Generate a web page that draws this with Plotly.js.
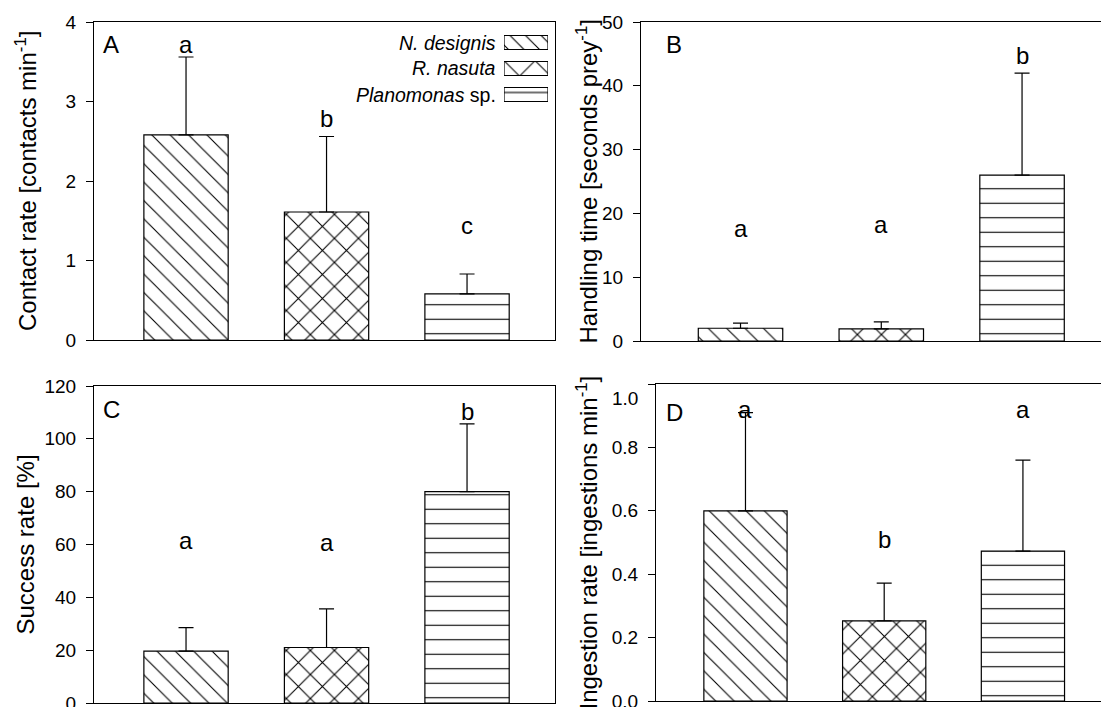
<!DOCTYPE html>
<html>
<head>
<meta charset="utf-8">
<script src="https://cdn.plot.ly/plotly-3.0.1.min.js"></script>
<style>
  html, body { margin: 0; padding: 0; overflow: hidden; background: #fff; }
  #chart { width: 1110px; height: 730px; }
</style>
</head>
<body>
<div id="chart"></div>
<script>
// Prey species (x categories, one bar each)
const species = ['N. designis', 'R. nasuta', 'Planomonas sp.'];
const speciesLabels = ['<i>N. designis</i>', '<i>R. nasuta</i>', '<i>Planomonas</i> sp.'];

// A: contact rate (contacts min-1), mean and SD
const contactRate = [2.58, 1.61, 0.58];
const contactRateSD = [0.98, 0.95, 0.25];
// B: handling time (seconds prey-1)
const handlingTime = [2.0, 1.9, 26.0];
const handlingTimeSD = [0.8, 1.1, 16.0];
// C: success rate (%)
const successRate = [19.6, 21.0, 80.0];
const successRateSD = [8.9, 14.6, 25.7];
// D: ingestion rate (ingestions min-1)
const ingestionRate = [0.60, 0.253, 0.473];
const ingestionRateSD = [0.31, 0.119, 0.287];

// significance groups
const lettersA = ['a', 'b', 'c'];
const lettersB = ['a', 'a', 'b'];
const lettersC = ['a', 'a', 'b'];
const lettersD = ['a', 'b', 'a'];

// tick labels of the ingestion-rate axis (top one is set a little lower, below the frame)
const ingestionTicks = [0, 0.2, 0.4, 0.6, 0.8, 1.0];
const ingestionTickText = ['0.0', '0.2', '0.4', '0.6', '0.8', '1.0'];

// ---- layout helpers (figure is drawn in pixel terms) ----
const W = 1110, H = 730;
const fx = px => px / W;
const fy = py => 1 - py / H;
const FONT = 'Liberation Sans, Arial, Helvetica, sans-serif';

const hatch = {
  shape: ['\\', 'x', '-'],
  size: [13, 17, 14.5],
  solidity: [0.085, 0.125, 0.076]
};

function barTrace(y, sd, xa, ya) {
  return {
    type: 'bar', x: species, y: y, xaxis: xa, yaxis: ya, width: 0.6,
    marker: {
      color: '#fff',
      line: { color: '#000', width: 1.2 },
      pattern: { shape: hatch.shape, size: hatch.size, solidity: hatch.solidity,
                 fgcolor: '#000', bgcolor: '#fff', fillmode: 'replace' }
    },
    error_y: { type: 'data', array: sd, arrayminus: sd.map(() => 0), symmetric: false,
               color: '#000', thickness: 1.2, width: 7.5 },
    showlegend: false, hoverinfo: 'skip'
  };
}

const panels = [
  { id: '',  y: contactRate,   sd: contactRateSD,   letters: lettersA, letterY: [3.61, 2.68, 1.34],
    xd: [94, 555],  yd: [22, 340],  xr: [-0.655, 2.626], yr: [0, 4],   dtick: 1,   fmt: '',
    tag: 'A', tagPos: [104, 53], title: 'Contact rate [contacts min<sup>-1</sup>]', titleX: 26 },
  { id: '2', y: handlingTime,  sd: handlingTimeSD,  letters: lettersB, letterY: [16.4, 16.9, 43.4],
    xd: [641, 1102], yd: [22, 341], xr: [-0.707, 2.568], yr: [0, 50],  dtick: 10,  fmt: '',
    tag: 'B', tagPos: [667, 53], title: 'Handling time [seconds prey<sup>-1</sup>]', titleX: 587 },
  { id: '3', y: successRate,   sd: successRateSD,   letters: lettersC, letterY: [58.3, 57.6, 107.1],
    xd: [94, 555],  yd: [386, 703], xr: [-0.655, 2.626], yr: [0, 120], dtick: 20,  fmt: '',
    tag: 'C', tagPos: [104, 418], title: 'Success rate [%]', titleX: 25 },
  { id: '4', y: ingestionRate, sd: ingestionRateSD, letters: lettersD, letterY: [0.892, 0.482, 0.892],
    xd: [656, 1102], yd: [384, 701], xr: [-0.645, 2.57], yr: [0, 1.0], dtick: 0.2, fmt: '.1f',
    tag: 'D', tagPos: [667, 421], title: 'Ingestion rate [ingestions min<sup>-1</sup>]', titleX: 586 }
];

const data = [];
const layout = {
  width: W, height: H,
  margin: { l: 0, r: 0, t: 0, b: 0 },
  paper_bgcolor: '#fff', plot_bgcolor: '#fff',
  font: { family: FONT, size: 19, color: '#000' },
  showlegend: false,
  annotations: [],
  bargap: 0
};

const LETTER_SIZE = 24, TAG_SIZE = 24, TITLE_SIZE = 24, TICK_SIZE = 19;

panels.forEach(p => {
  const xa = 'x' + p.id, ya = 'y' + p.id;
  data.push(barTrace(p.y, p.sd, xa, ya));
  layout['xaxis' + p.id] = {
    domain: [fx(p.xd[0]), fx(p.xd[1])], anchor: ya, range: p.xr, type: 'category',
    showline: true, linecolor: '#000', linewidth: 1, mirror: true,
    ticks: '', showticklabels: false, showgrid: false, zeroline: false, fixedrange: true
  };
  layout['yaxis' + p.id] = {
    domain: [fy(p.yd[1]), fy(p.yd[0])], anchor: xa, range: p.yr, dtick: p.dtick, tick0: 0,
    tickformat: p.fmt,
    showline: true, linecolor: '#000', linewidth: 1, mirror: true,
    ticks: 'outside', ticklen: 7, tickwidth: 1, tickcolor: '#000',
    ticklabelstandoff: 6,
    tickfont: { size: TICK_SIZE, color: '#000' },
    showgrid: false, zeroline: false, fixedrange: true
  };
  // significance letters above bars
  p.letters.forEach((t, i) => {
    layout.annotations.push({
      xref: xa, yref: ya, x: species[i], y: p.letterY[i], text: t, showarrow: false,
      xanchor: 'center', yanchor: 'middle', yshift: 0.3465 * LETTER_SIZE,
      font: { size: LETTER_SIZE, color: '#000' }
    });
  });
  // panel tag
  layout.annotations.push({
    xref: 'paper', yref: 'paper', x: fx(p.tagPos[0] - 3), y: fy(p.tagPos[1]), text: p.tag,
    showarrow: false, xanchor: 'left', yanchor: 'middle', yshift: 0.3465 * TAG_SIZE,
    font: { size: TAG_SIZE, color: '#000' }
  });
  // y-axis title
  layout.annotations.push({
    xref: 'paper', yref: 'paper', x: fx(p.titleX), y: fy((p.yd[0] + p.yd[1]) / 2),
    text: p.title, textangle: -90, showarrow: false, xanchor: 'center', yanchor: 'middle',
    font: { size: TITLE_SIZE, color: '#000' }
  });
});

// ingestion-rate axis: explicit ticks, top label lowered under the frame line
const last = ingestionTicks.length - 1;
layout.yaxis4.tickmode = 'array';
layout.yaxis4.tickvals = ingestionTicks;
layout.yaxis4.ticktext = ingestionTickText.map((t, i) => (i === last ? '' : t));
layout.annotations.push({
  xref: 'paper', yref: 'y4', x: fx(656 - 16), y: ingestionTicks[last], yshift: -15,
  text: ingestionTickText[last], showarrow: false, xanchor: 'right', yanchor: 'middle',
  font: { size: TICK_SIZE, color: '#000' }
});

// key: one hatched swatch per species inside panel A
data.push({
  type: 'bar', orientation: 'h', x: species.map(() => 1), y: species,
  xaxis: 'x5', yaxis: 'y5', width: 0.54,
  marker: {
    color: '#fff', line: { color: '#000', width: 1.2 },
    pattern: { shape: hatch.shape, size: [11, 22, 14], solidity: [0.1, 0.09, 0.08],
               fgcolor: '#000', bgcolor: '#fff', fillmode: 'replace' }
  },
  showlegend: false, hoverinfo: 'skip'
});
layout.xaxis5 = { domain: [fx(504), fx(548)], anchor: 'y5', range: [0, 1], visible: false, fixedrange: true };
layout.yaxis5 = { domain: [fy(107.5), fy(29.5)], anchor: 'x5', type: 'category',
                  range: [2.5, -0.5], visible: false, fixedrange: true };
const keyRows = [42.5, 68.5, 94.5];
speciesLabels.forEach((t, i) => {
  layout.annotations.push({
    xref: 'paper', yref: 'paper', x: fx(498), y: fy(keyRows[i]), text: t, showarrow: false,
    xanchor: 'right', yanchor: 'middle', font: { size: 19.5, color: '#000' }
  });
});

Plotly.newPlot('chart', data, layout, { staticPlot: true, displayModeBar: false });
</script>
</body>
</html>
